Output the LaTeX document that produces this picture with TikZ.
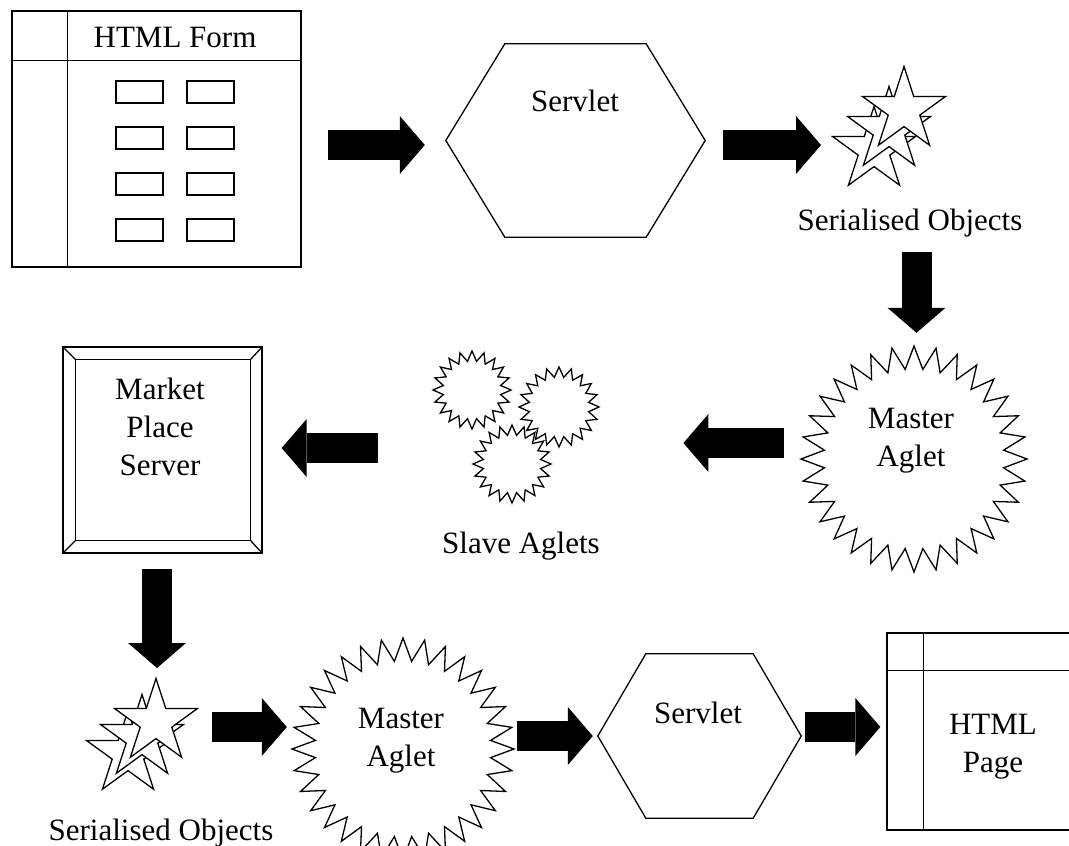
\documentclass[tikz,border=0pt]{standalone}
\usepackage{fontspec}
\setmainfont{Liberation Serif}
\usetikzlibrary{arrows.meta,shapes.geometric,fit}
\tikzset{
  ln/.style={line width=1.3pt, line join=miter},
  txt/.style={font=\fontsize{31}{38}\selectfont, inner sep=0pt, align=center},
  blk/.style={line width=30pt, -{Triangle[width=58pt,length=25pt,line width=0pt]}},
  starobj/.style={star, star points=5, star point ratio=2.618, minimum size=87pt, inner sep=0pt, draw, fill=white, line width=1.3pt},
  fbox/.style={draw, line width=1.3pt, minimum width=47pt, minimum height=22pt, inner sep=0pt},
  ghost/.style={circle, inner sep=0pt},
}
\newcommand{\zigburst}[5]{%
  \draw[ln, fill=white] plot[domain=0:#4, samples=#5, variable=\k]
   ({(((#1)+(#2))/2+((#1)-(#2))/2*cos(\k*180))*sin(\k*180/#3)},
    {-(((#1)+(#2))/2+((#1)-(#2))/2*cos(\k*180))*cos(\k*180/#3)}) -- cycle;}
\begin{document}
\begin{tikzpicture}[x=1pt,y=-1pt]
\useasboundingbox (0,0) rectangle (1069,846);
\clip (0,0) rectangle (1069,846);
\fill[white] (0,0) rectangle (1069,846);

% HTML form
\node[ln, draw, minimum width=289pt, minimum height=256pt, inner sep=0pt] (form) at (156.5,139) {};
\draw[ln] ([shift={(56,0)}]form.north west) -- ([shift={(56,0)}]form.south west);
\draw[ln] ([shift={(0,50)}]form.north west) -- ([shift={(0,50)}]form.north east);
\node[txt, anchor=base] (formtitle) at (175,47) {HTML Form};
\foreach \i/\y in {1/92,2/138,3/184,4/230}{
  \node[fbox] (fa\i) at (139.5,\y) {};
  \node[fbox] (fb\i) at (210.5,\y) {};
}

% Servlet (top)
\node[minimum width=259pt, minimum height=193pt, inner sep=0pt] (hex1) at (575.5,140.5) {};
\draw[ln] (hex1.west) -- ([shift={(59,0)}]hex1.north west) -- ([shift={(-59,0)}]hex1.north east)
  -- (hex1.east) -- ([shift={(-59,0)}]hex1.south east) -- ([shift={(59,0)}]hex1.south west) -- cycle;
\node[txt, anchor=base] (servlet1) at (575,111) {Servlet};

% Serialised objects (top)
\node[starobj] (s1c) at (874,150) {};
\node[starobj] (s1b) at (889,130) {};
\node[starobj] (s1a) at (904,110) {};
\node[txt, anchor=base] (obj1) at (910,230) {Serialised Objects};

% Master aglet (top)
\node[ghost, minimum size=226pt] (burst1) at (914,459) {};
\begin{scope}[shift={(burst1.center)}]\zigburst{113}{90}{32}{63}{64}\end{scope}
\node[txt, anchor=base] (master1) at (911,466) {Master\\Aglet};

% Slave aglets
\node[ghost, minimum size=78pt] (sl1) at (472,390) {};
\node[ghost, minimum size=80pt] (sl2) at (559,407) {};
\node[ghost, minimum size=78pt] (sl3) at (512,464) {};
\begin{scope}[shift={(sl1.center)}]\zigburst{39}{29}{20}{39}{40}\end{scope}
\begin{scope}[shift={(sl2.center)}]\zigburst{40}{30}{20}{39}{40}\end{scope}
\begin{scope}[shift={(sl3.center)}]\zigburst{39}{29}{20}{39}{40}\end{scope}
\node[fit=(sl1)(sl2)(sl3), inner sep=0pt] (slaves) {};
\node[txt, anchor=base] (slavelbl) at (521,553) {Slave Aglets};

% Market place server
\node[ln, draw, minimum width=199pt, minimum height=206pt, inner sep=0pt] (mps) at (162.5,450) {};
\draw[ln] ([shift={(13,13)}]mps.north west) rectangle ([shift={(-12,-13)}]mps.south east);
\draw[ln] (mps.north west) -- ++(13,13);
\draw[ln] (mps.north east) -- ++(-12,13);
\draw[ln] (mps.south west) -- ++(13,-13);
\draw[ln] (mps.south east) -- ++(-12,-13);
\node[txt, anchor=base] (mpslbl) at (160,475) {Market\\Place\\Server};

% Serialised objects (bottom)
\node[starobj] (s2c) at (128,754) {};
\node[starobj] (s2b) at (142,738) {};
\node[starobj] (s2a) at (156,722) {};
\node[txt, anchor=base] (obj2) at (161,840) {Serialised Objects};

% Master aglet (bottom)
\node[ghost, minimum size=222pt] (burst2) at (403,749) {};
\begin{scope}[shift={(burst2.center)}]\zigburst{111}{88}{32}{63}{64}\end{scope}
\node[txt, anchor=base] (master2) at (401,766) {Master\\Aglet};

% Servlet (bottom)
\node[minimum width=203pt, minimum height=164pt, inner sep=0pt] (hex2) at (699.5,736) {};
\draw[ln] (hex2.west) -- ([shift={(48,0)}]hex2.north west) -- ([shift={(-48,0)}]hex2.north east)
  -- (hex2.east) -- ([shift={(-48,0)}]hex2.south east) -- ([shift={(48,0)}]hex2.south west) -- cycle;
\node[txt, anchor=base] (servlet2) at (698,723) {Servlet};

% HTML page
\node[ln, draw, minimum width=213pt, minimum height=197pt, inner sep=0pt] (page) at (993.5,731.5) {};
\draw[ln] ([shift={(37,0)}]page.north west) -- ([shift={(37,0)}]page.south west);
\draw[ln] ([shift={(0,38)}]page.north west) -- ([shift={(0,38)}]page.north east);
\node[txt, anchor=base] (pagelbl) at (993,772) {HTML\\Page};

% block arrows
\draw[blk] ([shift={(26,6)}]form.east) -- ([shift={(-21,4.5)}]hex1.west);
\draw[blk] ([shift={(18,4.5)}]hex1.east) -- ([shift={(-53,-5)}]s1c.center);
\draw[blk] ([shift={(6.5,22)}]obj1.base) -- ([shift={(2.5,-13)}]burst1.north);
\draw[blk] ([shift={(-17,-16)}]burst1.west) -- ([shift={(84,16)}]slaves.east);
\draw[blk] ([shift={(-55,21)}]slaves.west) -- ([shift={(19,-2)}]mps.east);
\draw[blk] ([shift={(-5.5,15)}]mps.south) -- ([shift={(1,-54)}]s2a.center);
\draw[blk] ([shift={(56,5)}]s2a.center) -- ([shift={(-5,-22)}]burst2.west);
\draw[blk] ([shift={(3,-13)}]burst2.east) -- ([shift={(-5,0)}]hex2.west);
\draw[blk] ([shift={(4,-9)}]hex2.east) -- ([shift={(-6,-4.5)}]page.west);
\end{tikzpicture}
\end{document}
